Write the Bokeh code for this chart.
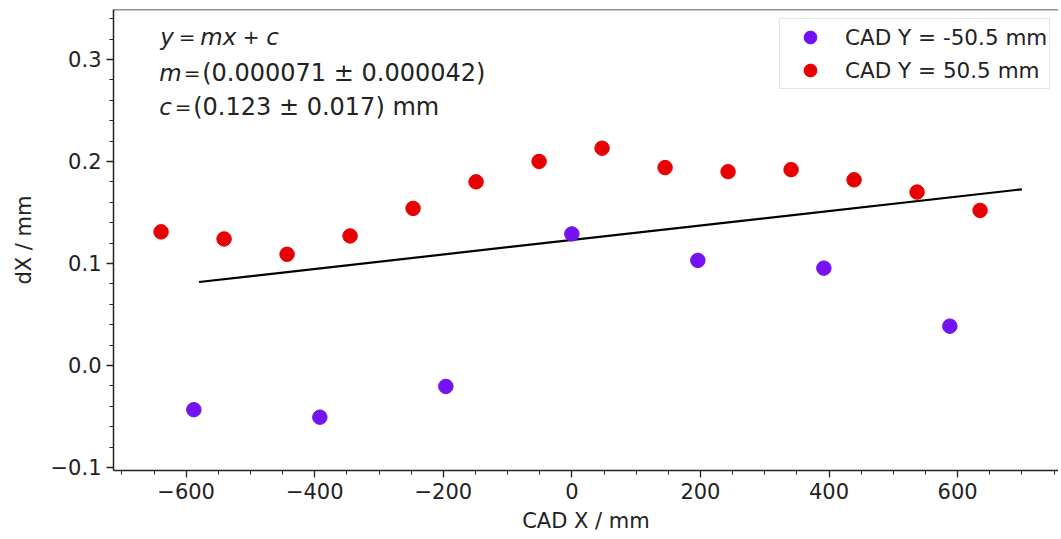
from bokeh.plotting import figure
from bokeh.models import Label, Span, FixedTicker, CustomJSTickFormatter
from bokeh.embed import file_html
from bokeh.resources import INLINE
import numpy as np

# ---- data ----
neg_x = [-588, -392, -196, 0, 196, 392, 588]
neg_y = [-0.0434, -0.0507, -0.0206, 0.129, 0.103, 0.0954, 0.0385]
pos_x = [-639, -541, -443, -345, -247, -149, -51, 47, 145, 243, 341, 439, 537, 635]
pos_y = [0.131, 0.124, 0.109, 0.127, 0.154, 0.180, 0.200, 0.213, 0.194, 0.190, 0.192, 0.182, 0.170, 0.152]
fit_m = 0.000071
fit_c = 0.123
fit_x = [-580, 700]
x_major = [-600, -400, -200, 0, 200, 400, 600]
y_major = [-0.1, 0.0, 0.1, 0.2, 0.3]

FONT = "DejaVu Sans"
TXT = "#222222"

p = figure(width=1058, height=539, x_range=(-713, 757), y_range=(-0.103, 0.349),
           output_backend="svg", toolbar_location=None,
           min_border_left=113, min_border_right=0, min_border_top=9, min_border_bottom=69)
p.background_fill_color = "white"
p.border_fill_color = "white"
p.outline_line_color = None
p.xgrid.visible = False
p.ygrid.visible = False

p.xaxis.ticker = FixedTicker(ticks=x_major, minor_ticks=list(np.arange(-700, 751, 50)))
p.yaxis.ticker = FixedTicker(ticks=y_major, minor_ticks=list(np.round(np.arange(-0.1, 0.35, 0.02), 2)))
p.xaxis.formatter = CustomJSTickFormatter(code="return Math.round(tick).toString().replace('-', '\u2212');")
p.yaxis.formatter = CustomJSTickFormatter(code="return tick.toFixed(1).replace('-', '\u2212');")

for ax in (p.xaxis[0], p.yaxis[0]):
    ax.axis_line_color = "#222222"
    ax.axis_line_width = 1.5
    ax.major_tick_line_color = "#222222"
    ax.minor_tick_line_color = "#222222"
    ax.major_tick_line_width = 1.3
    ax.minor_tick_line_width = 1.0
    ax.major_tick_out = 7
    ax.major_tick_in = 0
    ax.minor_tick_out = 4
    ax.minor_tick_in = 0
    ax.major_label_text_font = FONT
    ax.major_label_text_font_size = "21px"
    ax.major_label_text_color = TXT
    ax.axis_label_text_font = FONT
    ax.axis_label_text_font_size = "21px"
    ax.axis_label_text_font_style = "normal"
    ax.axis_label_text_color = TXT
    ax.major_label_standoff = 5

p.xaxis.axis_label = "CAD X / mm"
p.yaxis.axis_label = "dX / mm"
p.xaxis.axis_label_standoff = 7
p.yaxis.axis_label_standoff = 12

# top spine
p.add_layout(Span(location=p.y_range.end, dimension="width", line_color="#222222", line_width=1.5))

# fit line
fx = np.array(fit_x, dtype=float)
p.line(fx, fit_m * fx + fit_c, line_color="black", line_width=2.2)

p.scatter(neg_x, neg_y, size=14.5, fill_color="#7512f2", line_color="#7512f2",
          legend_label="CAD Y = -50.5 mm")
p.scatter(pos_x, pos_y, size=14.5, fill_color="#e80000", line_color="#e80000",
          legend_label="CAD Y = 50.5 mm")

lg = p.legend[0]
lg.location = (666, 381)
lg.label_text_font = FONT
lg.label_text_font_size = "21.5px"
lg.label_text_color = TXT
lg.glyph_width = 56
lg.glyph_height = 32
lg.label_height = 32
lg.spacing = 1
lg.padding = 2
lg.label_standoff = 7
lg.border_line_color = "#cccccc"
lg.border_line_width = 1
lg.background_fill_color = "white"
lg.background_fill_alpha = 0.9


def dx(px):
    return (px - 571.7) / 0.643


def dy(py):
    return (365 - py) / 1020.0


# (text, x px, y px, style, size, align)
pieces = [
    ("y", 160, 37, "italic", "23px", "left"), ("=", 187, 37, "normal", "20px", "center"),
    ("mx", 200, 37, "italic", "23px", "left"), ("+", 251, 37, "normal", "20px", "center"),
    ("c", 266, 37, "italic", "23px", "left"),
    ("m", 159, 73, "italic", "23px", "left"), ("=", 192, 73, "normal", "20px", "center"),
    ("(0.000071 \u00b1 0.000042)", 202, 73, "normal", "24px", "left"),
    ("c", 159, 107, "italic", "23px", "left"), ("=", 183, 107, "normal", "20px", "center"),
    ("(0.123 \u00b1 0.017) mm", 193, 107, "normal", "24px", "left"),
]
for t, px, py, st, fs, al in pieces:
    p.add_layout(Label(x=dx(px), y=dy(py), text=t, text_font=FONT, text_font_size=fs,
                       text_font_style=st, text_color=TXT, text_baseline="middle", text_align=al))

open("out.html", "w").write(file_html(p, INLINE))
